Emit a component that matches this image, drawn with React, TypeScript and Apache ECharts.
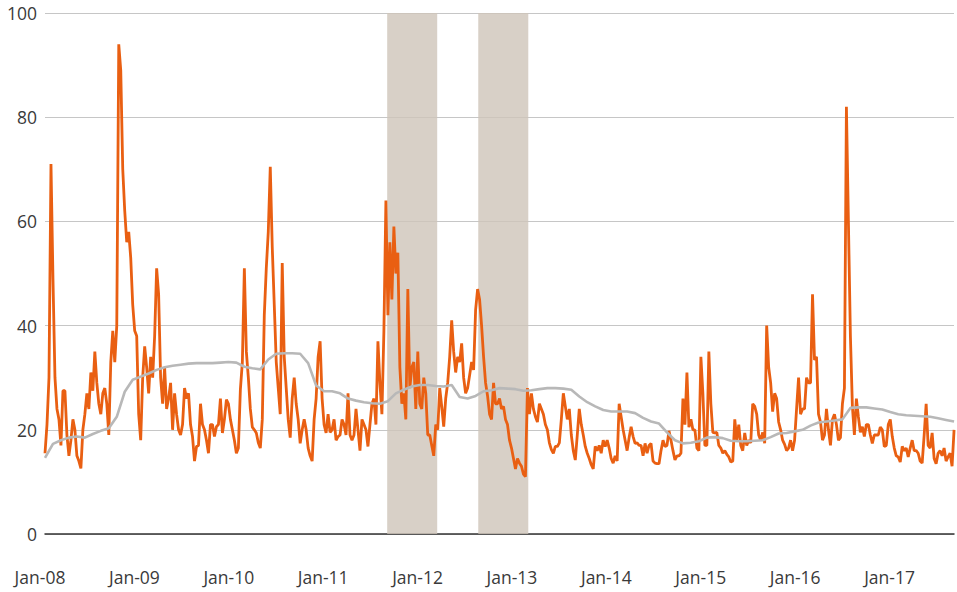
import React, { useEffect, useRef } from "react";
import * as echarts from "echarts";

// Time axis expressed in fractional years
const START_YEAR = 2008;
const END_YEAR = 2017.63;
const VOL_STEP = 0.02112; // years between volatility readings (~7.7 days)
const AVG_STEP = 0.08448; // years between moving-average readings (~31 days)

const yTicks = [0, 20, 40, 60, 80, 100];
const xTickYears = [2008, 2009, 2010, 2011, 2012, 2013, 2014, 2015, 2016, 2017];

// Shaded periods (start year, end year)
const shadedPeriods: [number, number][] = [
  [2011.625, 2012.155],
  [2012.59, 2013.12],
];

// Volatility index (orange)
const vol2008_09 = [
  15.5, 21, 30, 71, 49, 30, 24, 22, 17, 27.5,
  27.5, 19, 15, 18, 22, 20, 15, 14, 12.6, 20,
  23, 27, 24, 31, 27.5, 35, 29, 25, 23, 27,
  28, 25, 19, 33, 39, 33, 40, 94, 89, 70,
  62, 56, 58, 53, 44, 39, 38, 23, 18, 30,
  36, 32, 27, 34, 30, 38, 51, 46, 30, 25,
  32, 24, 26, 29, 20, 27, 23, 20, 19, 21,
  28, 26, 27, 21, 18.7, 14,
];
const vol2009_11 = [
  16.8, 17, 25, 21, 20, 18, 15.5, 21, 21, 18.7,
  20.6, 21, 26, 19.4, 22, 25.8, 25, 22, 20, 18,
  15.5, 16.5, 27.7, 33, 51, 35, 30, 24, 20.5, 20,
  19.4, 17.5, 16.5, 22, 42, 51, 58, 70.5, 55, 44,
  33, 28, 23, 52, 34, 28, 22, 18.5, 26, 30,
  25, 22, 17.4, 20, 22, 20, 16.5, 15, 14, 22,
  26, 34, 37, 26, 21, 19.4, 23, 19.5, 20, 22,
  18, 18.7, 19, 22, 21, 19,
];
const vol2011_12 = [
  27, 19, 18, 19, 24, 20, 16, 22, 21, 20,
  16.8, 21, 25, 26, 21, 37, 29, 23, 39, 64,
  42, 56, 45, 59, 50, 54, 32, 25, 27, 22,
  47, 28, 32, 33, 24, 35, 25, 24, 30, 27,
  19, 19, 17, 15, 21, 20, 28, 24.5, 20.6, 26,
  29, 34, 41, 35, 31, 34, 33, 36.6, 30, 27,
  28, 30.5, 33, 31.5, 43, 47, 45, 40, 34, 29,
  26.5, 23, 22, 29, 25, 25,
];
const vol2012_14 = [
  26, 24, 24.5, 22, 21, 18, 16.5, 14.5, 12.5, 14.5,
  13.6, 13, 11.5, 11, 28, 23, 27, 24, 22.5, 21.5,
  25, 24, 23, 21, 20, 17.5, 16.2, 15.5, 16.8, 16.8,
  17.5, 22, 27, 24.5, 22, 24, 19, 16, 14.2, 19,
  24, 21, 19, 16.8, 15.5, 14.5, 13.3, 12.5, 16.8, 16,
  17, 15.5, 18, 16.8, 18, 16.5, 14.5, 13.6, 15, 14,
  25, 22.5, 20, 18, 16, 18.5, 20.6, 18.7, 17.4, 17.5,
  17, 17, 15, 17.4, 15.5, 17,
];
const vol2014_16 = [
  17.4, 14, 13.6, 13.5, 13.5, 16, 18, 16.8, 17, 19.8,
  18, 16, 14.2, 15, 15, 15.5, 26, 21, 31, 20.5,
  22, 20, 20, 16.5, 16, 34, 27, 17, 17, 35,
  25, 19.5, 19.4, 19.5, 17, 16.5, 15.5, 16, 15.3, 14.8,
  13.8, 14, 22, 18, 21, 17, 16, 19.4, 17, 18,
  17.5, 25, 24.5, 23, 19, 18, 19.5, 17.4, 40, 32,
  29, 23.5, 27, 26, 21.5, 20, 18, 17.2, 16, 16.5,
  18, 16, 18, 24, 30, 23,
];
const vol2016_17 = [
  24, 24, 30, 29, 29, 46, 33.4, 34, 23, 21.5,
  18, 19, 24, 20, 17, 22, 23, 21, 18, 18.5,
  25, 28, 82, 60, 38, 24.5, 19, 26, 22.5, 19.5,
  20.6, 18.7, 21, 21, 19, 17.4, 19, 19, 19, 20.5,
  20, 16.8, 17, 21, 22, 18.7, 16.5, 15, 14.8, 13.8,
  16.8, 16, 16.5, 14.8, 16.5, 18, 16, 16, 15.5, 14,
  13.6, 19, 25, 17, 16.5, 19.4, 14.5, 13.5, 15.5, 16,
  15, 16.5, 14, 14.8, 15.5, 13, 20,
];

// Long-run average (grey)
const avg2008_09 = [14.6, 17.3, 18, 18.5, 18.7, 18.5, 19.2, 19.8, 20.3, 22.5, 27.3, 29.6, 30.2, 30.8, 31.5, 32, 32.3, 32.5, 32.7];
const avg2009_11 = [32.8, 32.8, 32.8, 32.9, 33, 32.9, 32.1, 31.8, 31.6, 33.5, 34.6, 34.7, 34.7, 34.6, 32.8, 28.5, 27.4, 27.4, 27];
const avg2011_12 = [26, 25.6, 25.3, 25.1, 25, 25.5, 27, 27.7, 28.3, 28.6, 28.6, 28.4, 28.3, 28.6, 26.3, 26, 26.5, 27.4, 27.6];
const avg2012_14 = [28, 27.9, 27.8, 27.5, 27.6, 27.8, 28, 28, 27.9, 27.7, 26.4, 25.3, 24.5, 23.8, 23.5, 23.5, 23.5, 23.2, 22.3];
const avg2014_16 = [21.6, 21.2, 19.5, 18, 17.4, 17.5, 17.8, 18.5, 18.6, 18.4, 17.9, 17.8, 17.8, 17.9, 18, 18.6, 19.3, 19.4, 19.7];
const avg2016_17 = [20, 20.8, 21.4, 21.6, 21.8, 22, 24.2, 24.3, 24.3, 24.1, 23.9, 23.4, 23, 22.8, 22.7, 22.6, 22.5, 22.2, 21.9, 21.6];

const volatility = [...vol2008_09, ...vol2009_11, ...vol2011_12, ...vol2012_14, ...vol2014_16, ...vol2016_17];
const average = [...avg2008_09, ...avg2009_11, ...avg2011_12, ...avg2012_14, ...avg2014_16, ...avg2016_17];

const FONT = "'Open Sans', 'Noto Sans', sans-serif";

export default function App() {
  const ref = useRef<HTMLDivElement>(null);

  useEffect(() => {
    document.body.style.margin = "0";
    const chart = echarts.init(ref.current!, null, { renderer: "svg" });
    chart.setOption({
      animation: false,
      backgroundColor: "#ffffff",
      grid: { left: 45, right: 0, top: 13, bottom: 58, containLabel: false },
      xAxis: {
        type: "value",
        min: START_YEAR,
        max: END_YEAR,
        interval: 1,
        axisLine: { show: true, onZero: false, lineStyle: { color: "#333333", width: 1.5 } },
        axisTick: { show: false },
        splitLine: { show: false },
        axisLabel: {
          formatter: (v: number) => {
            const r = Math.round(v);
            if (Math.abs(v - r) > 1e-6 || !xTickYears.includes(r)) return "";
            return "Jan-" + String(r % 100).padStart(2, "0");
          },
          fontFamily: FONT,
          fontSize: 17.5,
          color: "#3a3a3a",
          margin: 34,
          padding: [0, 10, 0, 0],
        },
      },
      yAxis: {
        type: "value",
        min: yTicks[0],
        max: yTicks[yTicks.length - 1],
        interval: 20,
        axisLine: { show: false },
        axisTick: { show: false },
        splitLine: { lineStyle: { color: "#c6c6c6", width: 1 } },
        axisLabel: {
          fontFamily: FONT,
          fontSize: 17.5,
          color: "#3a3a3a",
          margin: 8,
          padding: [4, 0, 0, 0],
        },
      },
      series: [
        {
          name: "Volatility",
          type: "line",
          data: volatility.map((v, i) => [START_YEAR + i * VOL_STEP, v]),
          showSymbol: false,
          symbol: "none",
          lineStyle: { color: "#e95f12", width: 2.8 },
          z: 2,
          markArea: {
            silent: true,
            itemStyle: { color: "rgba(206,196,185,0.8)" },
            data: shadedPeriods.map(([a, b]) => [{ xAxis: a }, { xAxis: b }]),
          },
        },
        {
          name: "Average",
          type: "line",
          data: average.map((v, i) => [START_YEAR + i * AVG_STEP, v]),
          showSymbol: false,
          symbol: "none",
          lineStyle: { color: "#b8b8b8", width: 2.6 },
          z: 3,
        },
      ],
    });
    return () => chart.dispose();
  }, []);

  return <div ref={ref} style={{ width: 957, height: 592 }} />;
}
